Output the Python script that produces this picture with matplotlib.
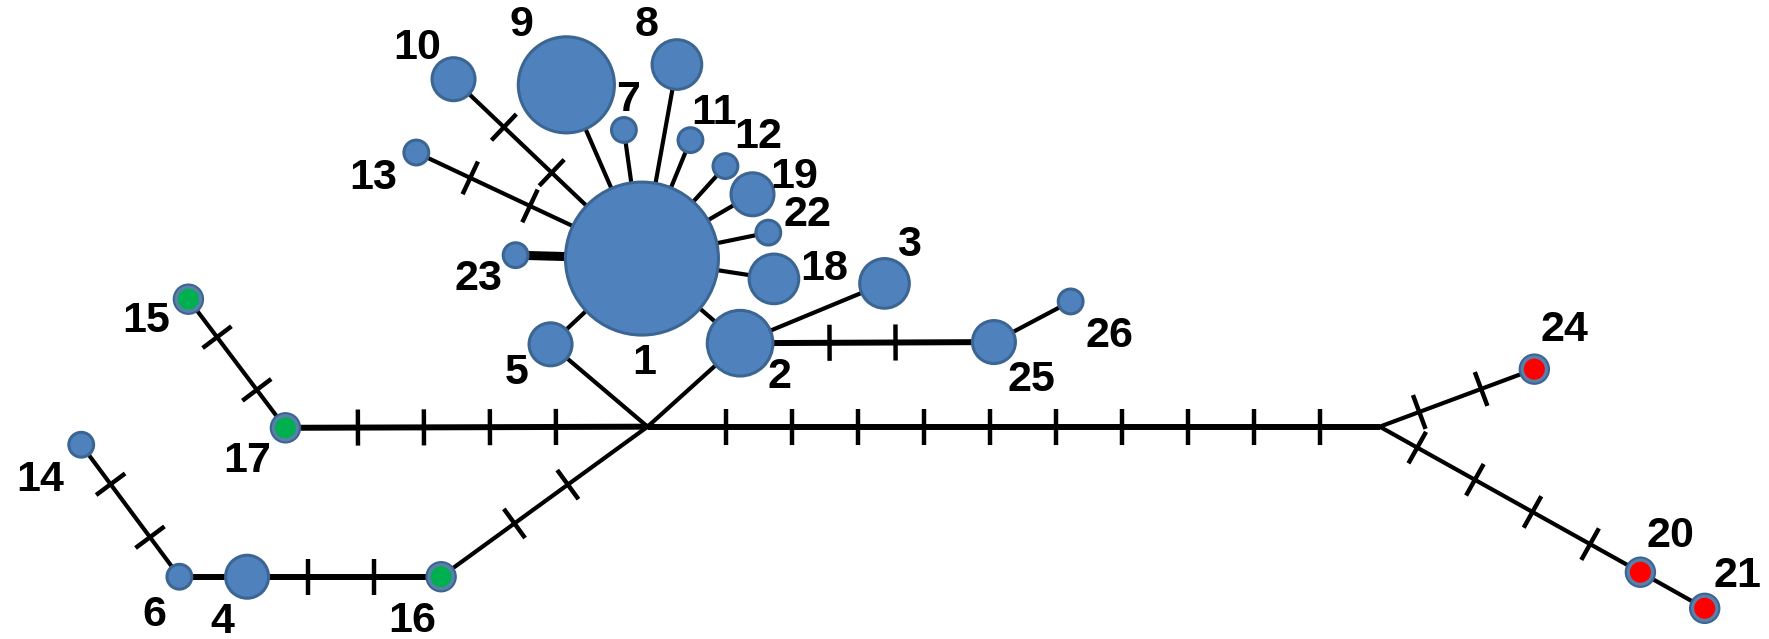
import matplotlib
matplotlib.use('Agg')
import matplotlib.pyplot as plt
import numpy as np
from matplotlib.patches import Circle

plt.rcParams['font.family'] = ['Liberation Sans Narrow', 'Liberation Sans', 'DejaVu Sans']

# ---------------- data ----------------
haplotypes = [str(i) for i in range(1, 27)]
frequency = [38, 7, 4, 3, 3, 1, 1, 4, 15, 3, 1, 1, 1, 1, 1, 1, 1, 4, 3, 1, 1, 1, 1, 1, 3, 1]
group = ['A', 'A', 'A', 'A', 'A', 'A', 'A', 'A', 'A', 'A', 'A', 'A', 'A', 'A',
         'B', 'B', 'B', 'A', 'A', 'C', 'C', 'A', 'A', 'C', 'A', 'A']
# edges: (from, to, number of mutation steps)
edge_from = ['1', '1', '1', '1', '1', '1', '1', '1', '1', '1', '1', '1', '1', '2', '2', '25',
             '5', '2', 'J1', '17', 'J1', '16', '4', '6', 'J1', 'J2', 'J2', '20']
edge_to = ['9', '8', '10', '13', '7', '11', '12', '19', '22', '18', '23', '5', '2', '3', '25', '26',
           'J1', 'J1', '17', '15', '16', '4', '6', '14', 'J2', '24', '20', '21']
edge_steps = [0, 0, 2, 2, 0, 0, 0, 0, 0, 0, 0, 0, 0, 0, 2, 0,
              0, 0, 4, 2, 2, 2, 0, 2, 10, 2, 4, 0]

# ---------------- layout (drawing space) ----------------
layout = {
    '1': (569, 229), '2': (656, 304), '3': (784, 251), '4': (219, 511), '5': (488, 305),
    '6': (159, 511), '7': (553, 115), '8': (600, 57), '9': (502, 75), '10': (402, 70),
    '11': (612, 124), '12': (643, 147), '13': (369, 135), '14': (72, 394), '15': (167, 265),
    '16': (391, 511), '17': (253, 379), '18': (686, 247), '19': (667, 172), '20': (1454, 507),
    '21': (1511, 539), '22': (681, 206), '23': (457, 226), '24': (1360, 327), '25': (881, 303),
    '26': (949, 267), 'J1': (574, 378), 'J2': (1223, 378),
}
label_pos = {
    '1': (571, 322), '2': (691, 334), '3': (806, 217), '4': (197, 551), '5': (458, 330),
    '6': (137, 545), '7': (557, 88), '8': (573, 22), '9': (462, 22), '10': (370, 42),
    '11': (633, 100), '12': (672, 121), '13': (331, 158), '14': (36, 425), '15': (130, 284),
    '16': (365, 550), '17': (219, 408), '18': (731, 238), '19': (704, 157), '20': (1481, 475),
    '21': (1540, 510), '22': (716, 190), '23': (424, 247), '24': (1387, 292), '25': (914, 337),
    '26': (983, 298),
}
tick_shift = {('J1', 'J2'): 8, ('J1', '17'): 15, ('2', '25'): -9, ('16', '4'): 6, ('J1', '16'): 10}
thick_edges = {('2', '25'), ('J1', '17'), ('16', '4'), ('4', '6'), ('J1', 'J2')}
heavy_edges = {('1', '23')}
STEP = 58.5  # drawing length of one mutation step

BLUE = '#4F81BD'
EDGE = '#3B6592'
GROUP_COLOR = {'A': BLUE, 'B': '#00B050', 'C': '#FF0000'}
R0 = 11.0

W, H = 1568, 566
fig = plt.figure(figsize=(17.69, 6.39), dpi=100)
ax = fig.add_axes([0, 0, 1, 1])
ax.set_xlim(0, W)
ax.set_ylim(H, 0)
ax.set_aspect('equal')
ax.axis('off')

radius = {}
for h, f, g in zip(haplotypes, frequency, group):
    radius[h] = R0 * np.sqrt(f) if g == 'A' else 13.0
radius['J1'] = 0.0
radius['J2'] = 0.0

# edges
for a, b, n in zip(edge_from, edge_to, edge_steps):
    pa = np.array(layout[a], float)
    pb = np.array(layout[b], float)
    if (a, b) in heavy_edges:
        lw = 6.5
    elif (a, b) in thick_edges:
        lw = 4.3
    else:
        lw = 3.0
    ax.plot([pa[0], pb[0]], [pa[1], pb[1]], color='black', lw=lw, solid_capstyle='butt', zorder=1)
    if n > 0:
        d = pb - pa
        L = np.hypot(*d)
        u = d / L
        perp = np.array([-u[1], u[0]])
        s_len = radius[a]
        e_len = L - radius[b]
        mid = (s_len + e_len) / 2 + tick_shift.get((a, b), 0)
        for k in range(n):
            t = mid + (k - (n - 1) / 2) * STEP
            c = pa + u * t
            p1 = c + perp * 16
            p2 = c - perp * 16
            ax.plot([p1[0], p2[0]], [p1[1], p2[1]], color='black', lw=3.2,
                    solid_capstyle='butt', zorder=1)

# nodes
for h, f, g in zip(haplotypes, frequency, group):
    x, y = layout[h]
    if g == 'A':
        ax.add_patch(Circle((x, y), radius[h], facecolor=BLUE, edgecolor=EDGE, lw=2.2, zorder=3))
    else:
        ax.add_patch(Circle((x, y), radius[h], facecolor='#5A7FA8', edgecolor=EDGE, lw=1.5, zorder=3))
        ax.add_patch(Circle((x, y), 9.3, facecolor=GROUP_COLOR[g], edgecolor='none', zorder=4))
    lx, ly = label_pos[h]
    ax.text(lx, ly, h, fontsize=31, fontweight='bold', ha='center', va='center',
            color='black', zorder=5)

fig.savefig('out.png', dpi=100)
